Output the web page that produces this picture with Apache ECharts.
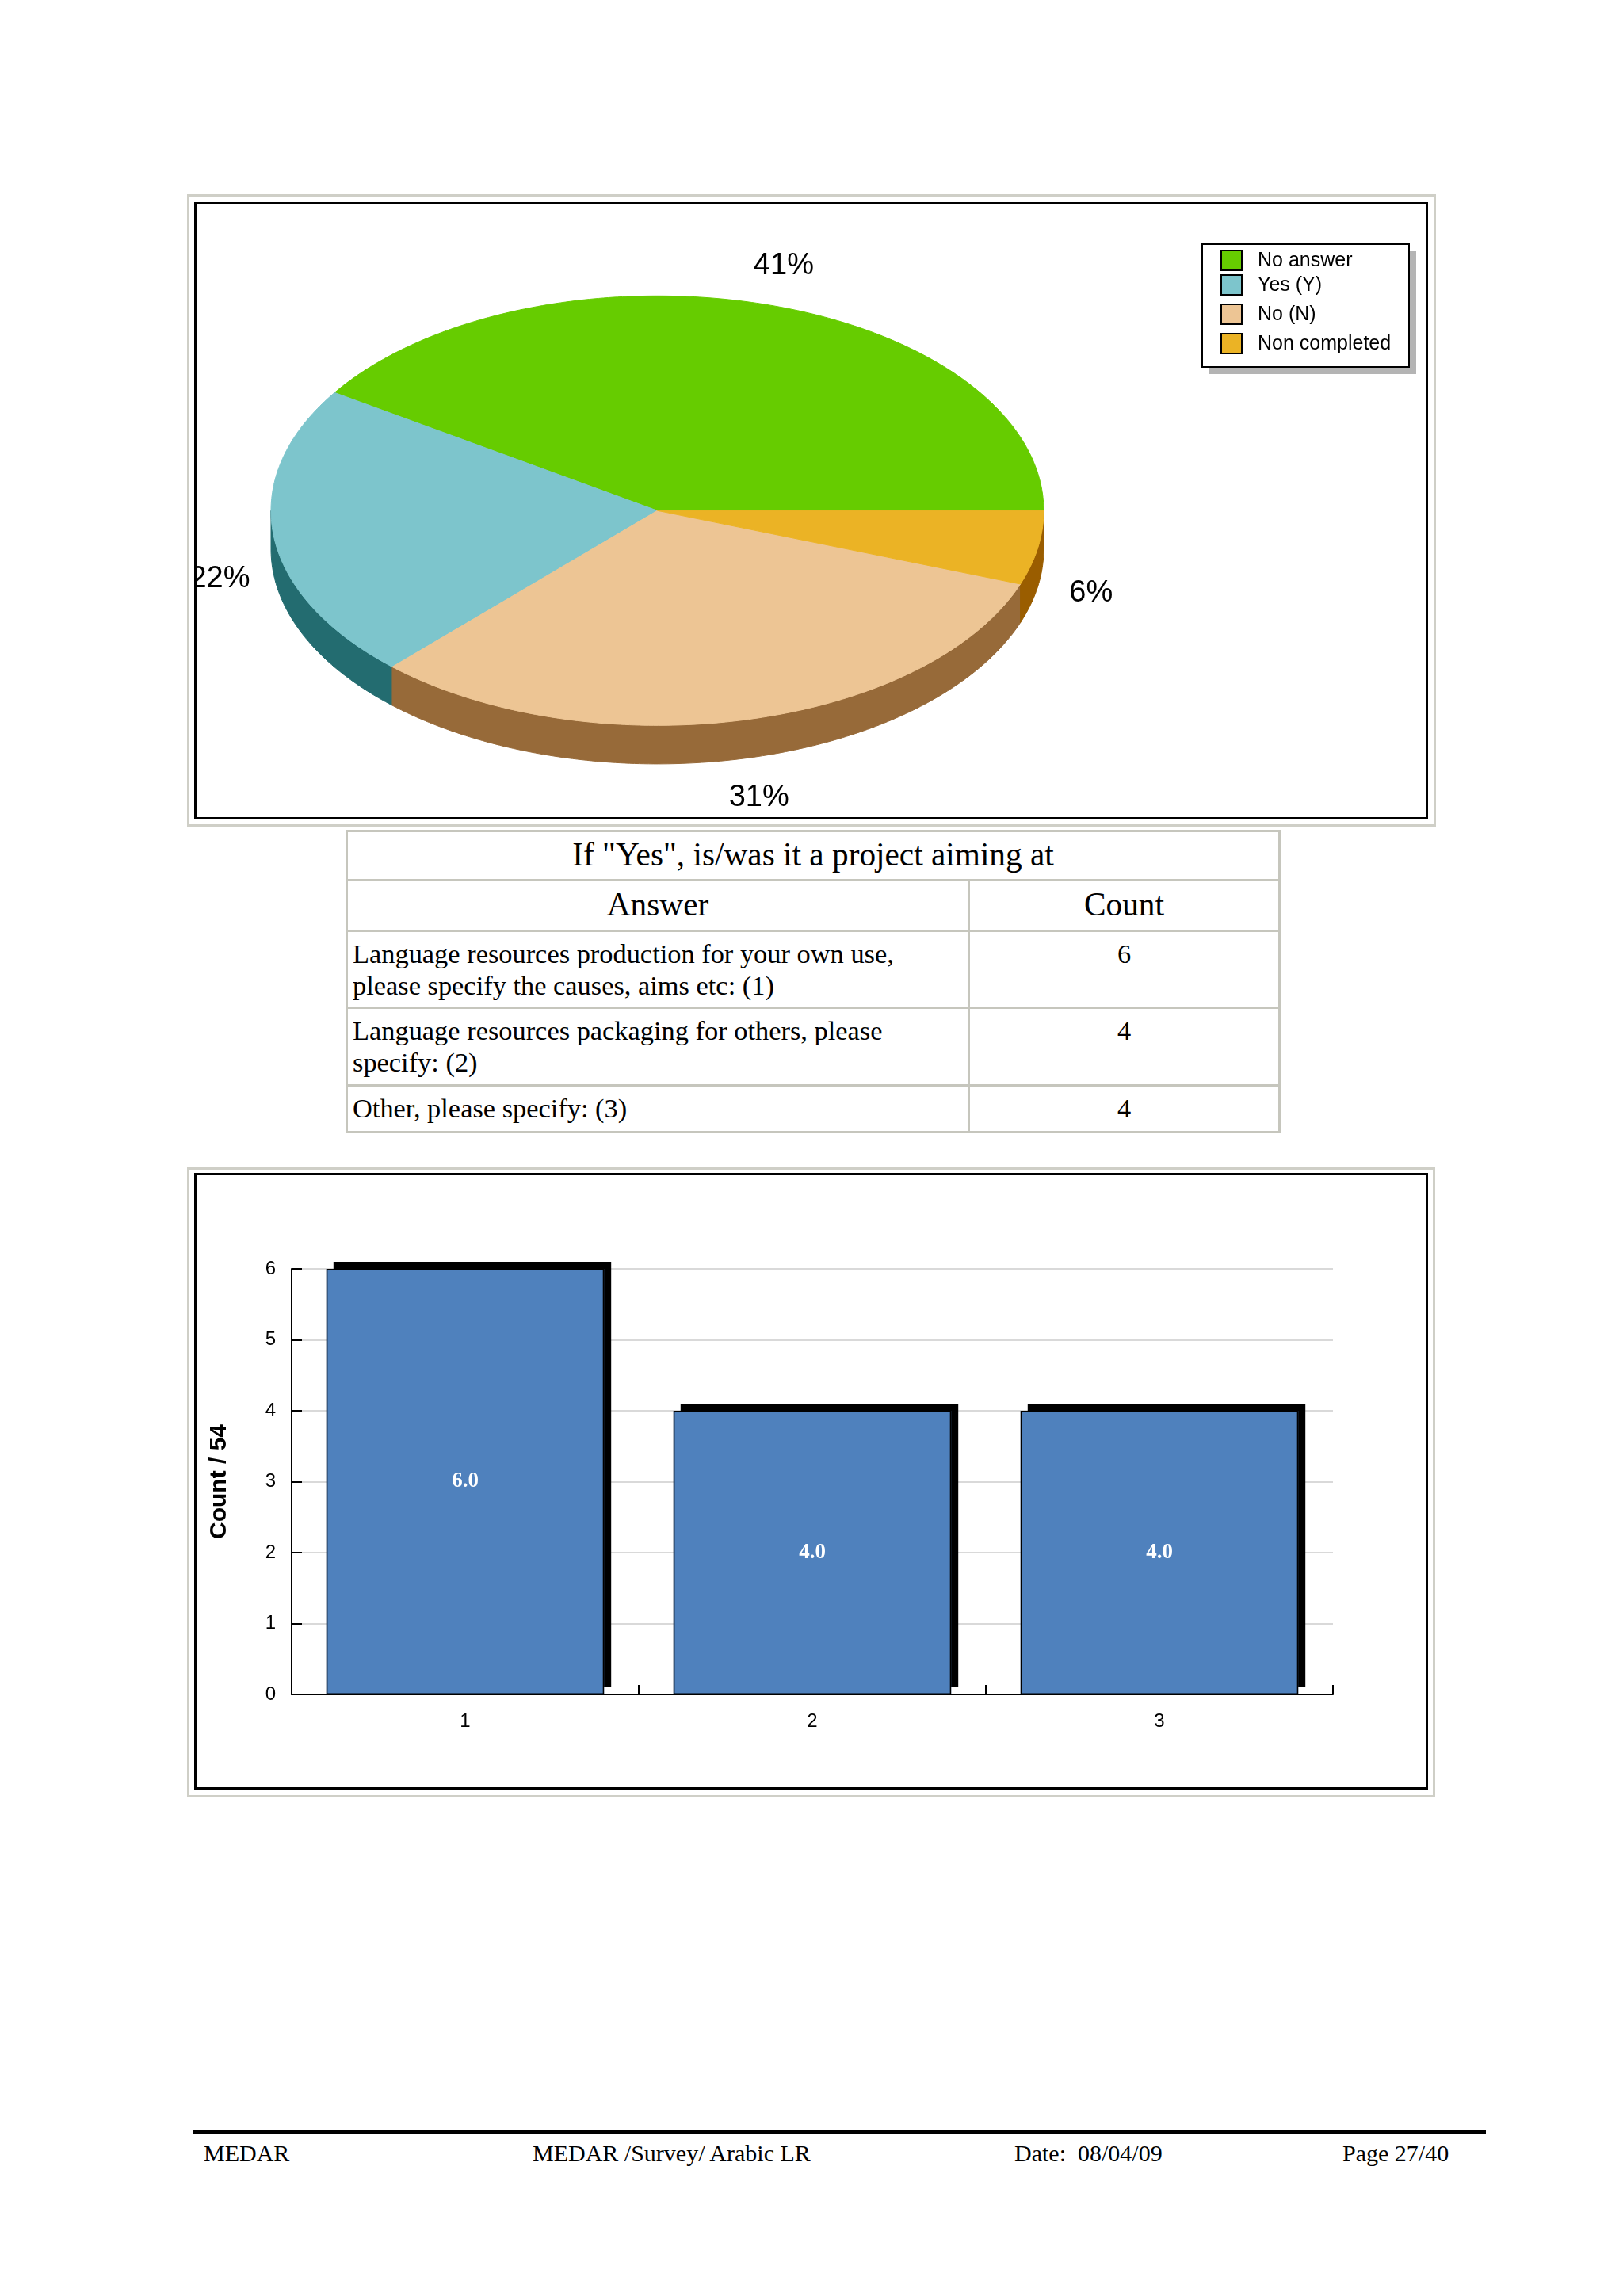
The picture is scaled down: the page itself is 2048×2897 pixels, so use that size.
<!DOCTYPE html>
<html>
<head>
<meta charset="utf-8">
<script src="https://cdn.jsdelivr.net/npm/echarts@6.0.0/dist/echarts.min.js"></script>
<style>
html, body { margin: 0; padding: 0; background: #fff; }
body { width: 2048px; height: 2897px; position: relative; overflow: hidden; }
.abs { position: absolute; box-sizing: border-box; }
.outer { border: 3px solid #cfcfc7; }
.inner { border: 3px solid #000; overflow: hidden; background: #fff; }
.cell { position: absolute; box-sizing: border-box; border: 3px solid #c6c6bd; font-family: 'Liberation Serif', 'Times New Roman', serif; color: #000; overflow: hidden; }
.foot { position: absolute; font-family: 'Liberation Serif', 'Times New Roman', serif; font-size: 30px; line-height: 30px; white-space: pre; color: #000; }
</style>
</head>
<body>

<!-- pie panel -->
<div class="abs outer" style="left:236px;top:245px;width:1576px;height:798px;"></div>
<div class="abs inner" style="left:245px;top:255px;width:1557px;height:779px;">
  <div id="pie" style="width:1551px;height:773px;"></div>
</div>

<!-- table -->
<div id="table"></div>

<!-- bar panel -->
<div class="abs outer" style="left:236px;top:1473px;width:1575px;height:795px;"></div>
<div class="abs inner" style="left:245px;top:1480px;width:1557px;height:778px;">
  <div id="bar" style="width:1551px;height:772px;"></div>
</div>

<!-- footer -->
<div class="abs" style="left:243px;top:2687px;width:1632px;height:6px;background:#000;"></div>
<div id="footer"></div>

<script>
// ---------------- data ----------------
const pieNames = ['No answer', 'Yes (Y)', 'No (N)', 'Non completed'];
const pieCounts = [22, 12, 17, 3];

const barCategories = ['1', '2', '3'];
const barValues = [6, 4, 4];

const tableTitle = 'If "Yes", is/was it a project aiming at';
const tableHeaders = ['Answer', 'Count'];
const tableAnswers = [
  'Language resources production for your own use, please specify the causes, aims etc: (1)',
  'Language resources packaging for others, please specify: (2)',
  'Other, please specify: (3)'
];
const tableCounts = [6, 4, 4];

const footerTexts = ['MEDAR', 'MEDAR /Survey/ Arabic LR', 'Date:  08/04/09', 'Page 27/40'];

// ---------------- styles / layout ----------------
const pieTopColors = ['#66cc00', '#7dc5cc', '#edc594', '#ebb325'];
const pieSideColors = ['#3d7a00', '#236c70', '#976a39', '#9a5d00'];
const PIE = { cx: 581.5, cy: 386.3, rx: 487.5, ry: 271, depth: 48.6 };
const legendBox = { x: 1269, y: 50, w: 261, h: 155, shadow: 9 };
const legendRowTops = [58, 89, 126, 163];

const tableCols = [436, 1221, 1613];
const tableRows = [1047, 1109, 1173, 1270, 1368, 1427];
const footerX = [257, 672, 1280, 1694];

// ---------------- pie (3D look) ----------------
const pieTotal = pieCounts.reduce((a, b) => a + b, 0);
const pieCum = [0];
pieCounts.forEach(v => pieCum.push(pieCum[pieCum.length - 1] + v));
const toAngle = v => v / pieTotal * Math.PI * 2;

function arcPts(a0, a1, dy) {
  const n = Math.max(8, Math.ceil(Math.abs(a1 - a0) * 80));
  const pts = [];
  for (let j = 0; j <= n; j++) {
    const a = a0 + (a1 - a0) * j / n;
    pts.push([PIE.cx + PIE.rx * Math.cos(a), PIE.cy - PIE.ry * Math.sin(a) + dy]);
  }
  return pts;
}

const pieData = pieCounts.map((v, i) => ({ name: pieNames[i], value: v }));

const legendGraphics = [
  { type: 'rect', shape: { x: legendBox.x + legendBox.shadow, y: legendBox.y + legendBox.shadow, width: legendBox.w, height: legendBox.h }, style: { fill: '#b4b4b4' }, z: 10 },
  { type: 'rect', shape: { x: legendBox.x, y: legendBox.y, width: legendBox.w, height: legendBox.h }, style: { fill: '#fff', stroke: '#000', lineWidth: 2 }, z: 11 }
];
pieNames.forEach((name, i) => {
  legendGraphics.push({ type: 'rect', shape: { x: 1293, y: legendRowTops[i], width: 26, height: 25 }, style: { fill: pieTopColors[i], stroke: '#000', lineWidth: 2 }, z: 12 });
  legendGraphics.push({ type: 'text', x: 1339, y: legendRowTops[i] + 13, style: { text: name, fontSize: 25, fontFamily: 'Liberation Sans', fill: '#000', verticalAlign: 'middle', align: 'left' }, z: 12 });
});

const pieChart = echarts.init(document.getElementById('pie'));
pieChart.setOption({
  animation: false,
  graphic: legendGraphics,
  series: [
    {
      type: 'custom', coordinateSystem: 'none', data: pieData, z: 1,
      renderItem: function (params, api) {
        const i = params.dataIndex;
        const a0 = toAngle(pieCum[i]), a1 = toAngle(pieCum[i] + api.value(0));
        const s = Math.max(a0, Math.PI), e = Math.min(a1, Math.PI * 2);
        if (e <= s) return { type: 'group', children: [] };
        const pts = arcPts(s, e, 0).concat(arcPts(e, s, PIE.depth));
        return { type: 'polygon', shape: { points: pts }, style: { fill: pieSideColors[i], stroke: pieSideColors[i], lineWidth: 1 } };
      }
    },
    {
      type: 'custom', coordinateSystem: 'none', data: pieData, z: 2,
      renderItem: function (params, api) {
        const i = params.dataIndex;
        const v = api.value(0);
        const a0 = toAngle(pieCum[i]), a1 = toAngle(pieCum[i] + v);
        const pts = [[PIE.cx, PIE.cy]].concat(arcPts(a0, a1, 0));
        const mid = (a0 + a1) / 2;
        const lx = PIE.cx + PIE.rx * 1.14 * Math.cos(mid);
        const ly = PIE.cy - PIE.ry * 1.19 * Math.sin(mid) + (Math.sin(mid) < 0 ? PIE.depth : 0);
        return {
          type: 'group',
          children: [
            { type: 'polygon', shape: { points: pts }, style: { fill: pieTopColors[i], stroke: pieTopColors[i], lineWidth: 1 } },
            { type: 'text', x: lx, y: ly, style: { text: Math.round(v / pieTotal * 100) + '%', fontSize: 38, fontFamily: 'Liberation Sans', fill: '#000', align: 'center', verticalAlign: 'middle' } }
          ]
        };
      }
    }
  ]
});

// ---------------- table ----------------
(function buildTable() {
  const host = document.getElementById('table');
  function cell(x0, x1, y0, y1, text, style) {
    const d = document.createElement('div');
    d.className = 'cell';
    d.style.left = x0 + 'px';
    d.style.top = y0 + 'px';
    d.style.width = (x1 - x0 + 3) + 'px';
    d.style.height = (y1 - y0 + 3) + 'px';
    Object.assign(d.style, style);
    d.textContent = text;
    host.appendChild(d);
  }
  const big = { fontSize: '41.3px', lineHeight: '48px', textAlign: 'center' };
  cell(tableCols[0], tableCols[2], tableRows[0], tableRows[1], tableTitle, Object.assign({ paddingTop: '4px' }, big));
  cell(tableCols[0], tableCols[1], tableRows[1], tableRows[2], tableHeaders[0], Object.assign({ paddingTop: '5px' }, big));
  cell(tableCols[1], tableCols[2], tableRows[1], tableRows[2], tableHeaders[1], Object.assign({ paddingTop: '5px' }, big));
  tableAnswers.forEach((ans, r) => {
    const body = { fontSize: '34.4px', lineHeight: '40px', paddingTop: '7px' };
    cell(tableCols[0], tableCols[1], tableRows[r + 2], tableRows[r + 3], ans, Object.assign({ textAlign: 'left', paddingLeft: '6px', paddingRight: '12px' }, body));
    cell(tableCols[1], tableCols[2], tableRows[r + 2], tableRows[r + 3], String(tableCounts[r]), Object.assign({ textAlign: 'center' }, body));
  });
})();

// ---------------- bar chart ----------------
const barChart = echarts.init(document.getElementById('bar'));
barChart.setOption({
  animation: false,
  grid: { left: 120, top: 118, width: 1314, height: 537 },
  xAxis: {
    type: 'category',
    data: barCategories,
    axisLine: { show: true, lineStyle: { color: '#000', width: 2 } },
    axisTick: { show: true, inside: true, length: 12, lineStyle: { color: '#000', width: 2 } },
    axisLabel: { color: '#000', fontSize: 24, margin: 22, fontFamily: 'Liberation Sans' },
    splitLine: { show: false }
  },
  yAxis: {
    type: 'value', min: 0, max: 6, interval: 1,
    name: 'Count / 54', nameLocation: 'middle', nameGap: 76,
    nameTextStyle: { color: '#000', fontSize: 30, fontWeight: 'bold', fontFamily: 'Liberation Sans' },
    axisLine: { show: true, lineStyle: { color: '#000', width: 2 } },
    axisTick: { show: true, inside: true, length: 13, lineStyle: { color: '#000', width: 2 } },
    axisLabel: { color: '#000', fontSize: 24, margin: 20, fontFamily: 'Liberation Sans' },
    splitLine: { show: true, lineStyle: { color: '#d9d9d9', width: 2 } }
  },
  series: [
    {
      type: 'bar',
      data: barValues,
      barCategoryGap: '20%',
      z: 2,
      itemStyle: { color: '#4f81bd', borderWidth: 0, shadowColor: '#000', shadowBlur: 0, shadowOffsetX: 9, shadowOffsetY: -9 },
      label: { show: true, position: 'inside', formatter: p => p.value.toFixed(1), color: '#fff', fontWeight: 'bold', fontSize: 27, fontFamily: 'Liberation Serif' }
    },
    {
      type: 'bar',
      data: barValues,
      barCategoryGap: '20%',
      barGap: '-100%',
      z: 3,
      silent: true,
      itemStyle: { color: 'rgba(0,0,0,0)', borderColor: '#000', borderWidth: 1.5 },
      label: { show: false }
    }
  ]
});

// ---------------- footer ----------------
(function buildFooter() {
  const host = document.getElementById('footer');
  footerTexts.forEach((t, i) => {
    const d = document.createElement('div');
    d.className = 'foot';
    d.style.left = footerX[i] + 'px';
    d.style.top = '2702px';
    d.textContent = t;
    host.appendChild(d);
  });
})();
</script>
</body>
</html>
